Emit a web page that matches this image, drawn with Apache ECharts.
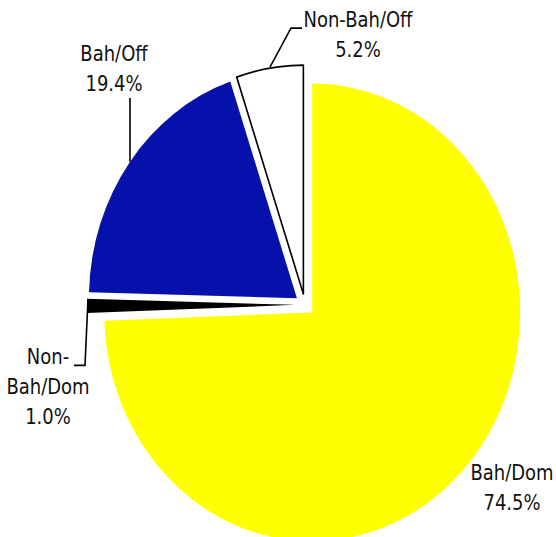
<!DOCTYPE html>
<html>
<head>
<meta charset="utf-8">
<script src="https://cdn.jsdelivr.net/npm/echarts@6/dist/echarts.min.js"></script>
<style>
html,body{margin:0;padding:0;background:#fff;overflow:hidden;width:556px;height:537px;}
#wrap{width:556px;height:488px;transform:scaleY(1.1004);transform-origin:0 0;}
#chart{width:556px;height:488px;}
</style>
</head>
<body>
<div id="wrap"><div id="chart"></div></div>
<script>
const categories = ['Bah/Dom', 'Non-Bah/Dom', 'Bah/Off', 'Non-Bah/Off'];
const labelTexts = ['Bah/Dom', 'Non-\nBah/Dom', 'Bah/Off', 'Non-Bah/Off'];
const shares = [74.5, 1.0, 19.4, 5.2];
const colors = ['#FFFF00', '#000000', '#0610AA', '#FFFFFF'];

// label anchor positions (unscaled px) and leader line routes
const labelPos = [
  {x: 512, y: 443, line: null},
  {x: 48, y: 351, line: [[88, 272], [85, 332], [74, 332]]},
  {x: 114, y: 62, line: [[130, 147], [130, 89]]},
  {x: 358, y: 31, line: [[270, 61], [291, 25.5], [302, 25.5]]}
];

const FONT = '"Liberation Sans Narrow", "DejaVu Sans Condensed", "Liberation Sans", sans-serif';

const graphics = [];
categories.forEach((c, i) => {
  const lp = labelPos[i];
  graphics.push({
    type: 'text',
    x: lp.x, y: lp.y,
    silent: true,
    style: {
      text: labelTexts[i] + '\n' + shares[i].toFixed(1) + '%',
      align: 'center',
      verticalAlign: 'middle',
      fill: '#111',
      fontFamily: FONT,
      fontSize: 20,
      lineHeight: 27
    }
  });
  if (lp.line) {
    graphics.push({
      type: 'polyline',
      silent: true,
      shape: {points: lp.line},
      style: {stroke: '#000', lineWidth: 1.6, fill: null}
    });
  }
});

const chart = echarts.init(document.getElementById('chart'), null, {renderer: 'svg'});
chart.setOption({
  animation: false,
  backgroundColor: '#ffffff',
  graphic: graphics,
  series: [{
    type: 'pie',
    center: [305, 277],
    radius: [0, 208],
    startAngle: 90,
    clockwise: true,
    selectedMode: 'multiple',
    selectedOffset: 10,
    emphasis: {disabled: true},
    label: {show: false},
    labelLine: {show: false},
    data: categories.map((c, i) => ({
      name: c,
      value: shares[i],
      selected: true,
      itemStyle: {
        color: colors[i],
        borderColor: i === 3 ? '#000' : colors[i],
        borderWidth: i === 3 ? 1.6 : 0
      }
    }))
  }]
});
</script>
</body>
</html>
